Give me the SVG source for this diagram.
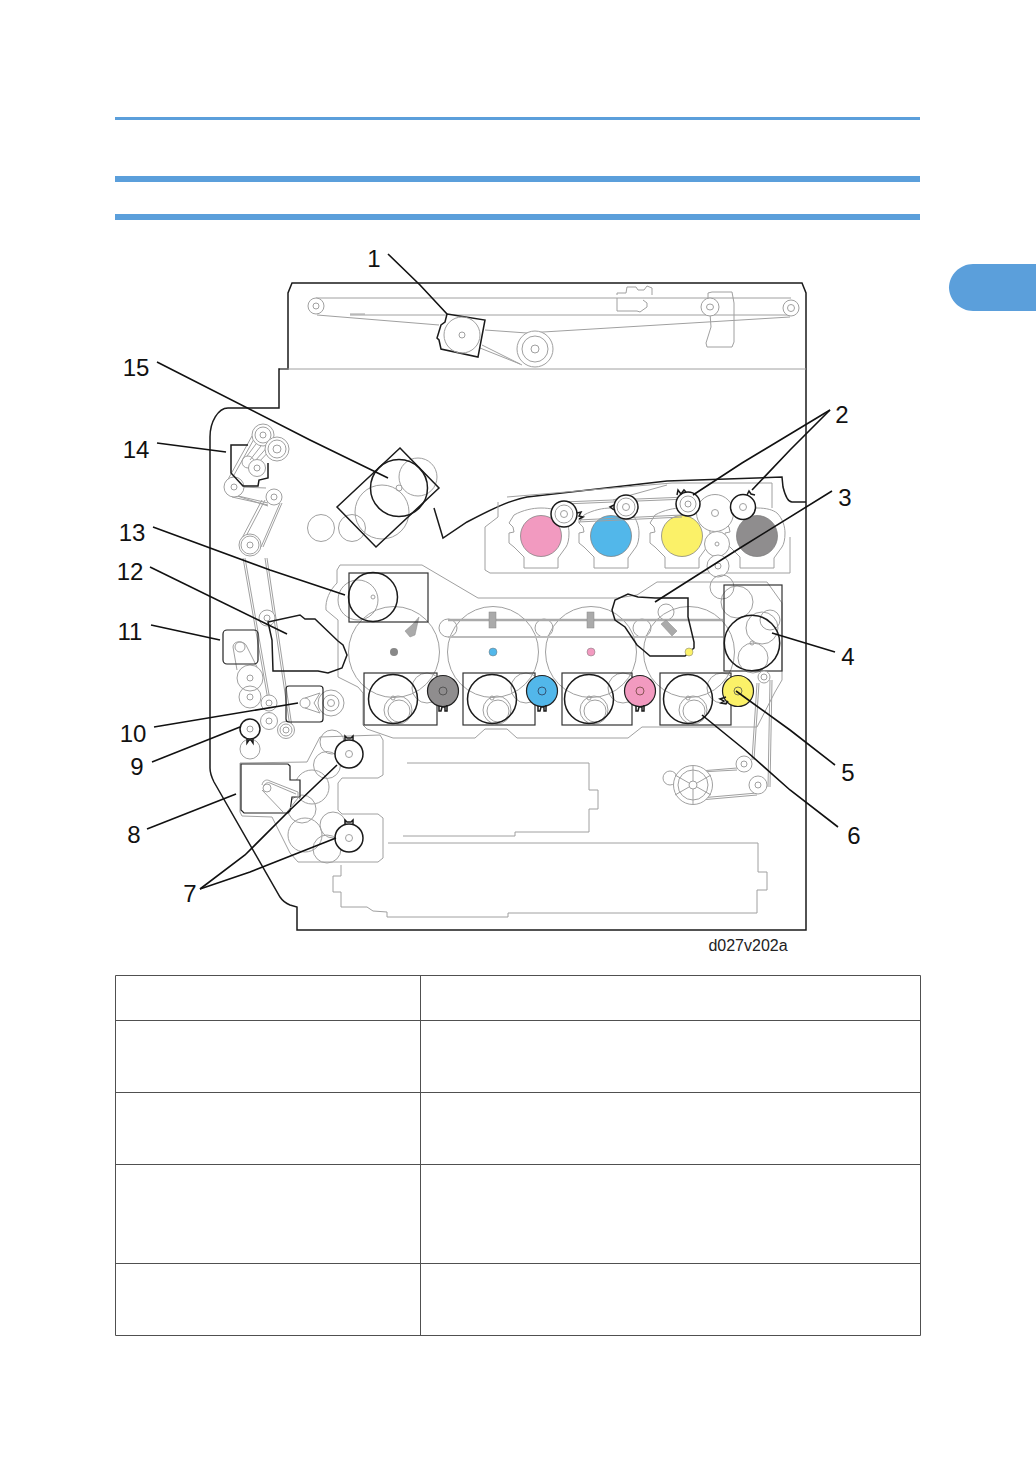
<svg xmlns="http://www.w3.org/2000/svg" width="1036" height="1470" viewBox="0 0 1036 1470">
<style>
.g{fill:none;stroke:#a0a0a0;stroke-width:1}
.gw{fill:#fff;stroke:#a0a0a0;stroke-width:1}
.k{fill:none;stroke:#1a1a1a;stroke-width:1.5}
.kw{fill:#fff;stroke:#1a1a1a;stroke-width:1.5}
.l{fill:none;stroke:#111;stroke-width:1.600}
.bar{fill:#5b9fdb}
.t{fill:none;stroke:#505050;stroke-width:1}
.n{font-family:"Liberation Sans",Arial,sans-serif;font-size:24px;fill:#111;text-anchor:middle}
.c{font-family:"Liberation Sans",Arial,sans-serif;font-size:16px;fill:#222;text-anchor:middle}
</style>
<defs>
<path id="cart" class="g" d="M-17 32V21L-27 11L-32 7V-3L-27-4L-28-9L-32-13L-27-21C-18-26-8-28 0-28C10-28 16-26 20-23C26-17 28-9 28-3C28 3 27 8 25 11L17 22V32Z"/>
<g id="unit"><circle cx="34" cy="-11" r="15" class="g"/><circle cx="5" cy="11" r="14" class="g"/><circle cx="6" cy="12" r="11" class="g"/><circle r="24.5" class="k"/><circle cx="0" cy="-1" r="2" class="g"/></g>
</defs>
<g id="header">
<rect class="bar" x="115" y="117" width="805" height="3"/>
<rect class="bar" x="115" y="176" width="805" height="6"/>
<rect class="bar" x="115" y="214" width="805" height="6"/>
<path class="bar" d="M1036 264H973C960 264 949 275 949 287.500C949 300 960 311 973 311H1036Z"/>
</g>
<g id="frame">
<path class="k" d="M292 283H802L806 293V930H297V907L290 905C285 903 282 900 280 897L214 782C211 776 210 772 210 768V437C210 422 218 408 228 408H279V369H288V293Z"/>
<path class="g" d="M280 369H806"/>
<path class="k" d="M434 508L443 538L467 522C490 510 510 500 527 497L667 481L782 477L783 487C785 495 788 502 792 502H806"/>
</g>
<g id="top-belt">
<path class="g" d="M316 298H791M350 315H791M317 315L439 325M485 330L527 333L543 332L790 317M482 345L522 365M480 348L520 364M350 314H365"/>
<circle cx="316" cy="306" r="8" class="gw"/><circle cx="316" cy="306" r="3" class="g"/>
<circle cx="535" cy="349" r="18" class="gw"/><circle cx="535" cy="349" r="13" class="g"/><circle cx="535" cy="349" r="4" class="g"/>
<path class="g" d="M617 295V293H626L627 287H636L638 290H644L647 286L652 288V295M617 298V311H637L640 312L647 307V303L643 300"/>
<path class="g" d="M708 302V293L712 292H732L734 303V342L732 347H707L706 343L711 327L710 313"/>
<circle cx="710" cy="307" r="9" class="gw"/><ellipse cx="710" cy="307" rx="3.500" ry="3" class="g"/>
<circle cx="791" cy="308" r="8" class="gw"/><circle cx="791" cy="308" r="3.500" class="g"/>
</g>
<g id="motor-1">
<path class="kw" d="M447 314L485 320L478 357L441 349L439 340L437 338L441 325L445 322Z"/>
<circle cx="462" cy="335" r="18" class="g"/><circle cx="462" cy="335" r="3" class="g"/>
</g>
<g id="toner">
<path class="g" d="M498 502V517L485 527V570L490 573H790V537M507 497L672 483H772V508M667 485L613 500"/>
<use href="#cart" x="541" y="536"/><use href="#cart" x="611" y="536"/><use href="#cart" x="682" y="536"/><use href="#cart" x="757" y="536"/>
<circle cx="541" cy="536" r="20.500" fill="#f29ac0" stroke="#777" stroke-width=".7"/>
<circle cx="611" cy="536" r="20.500" fill="#52b7ea" stroke="#777" stroke-width=".7"/>
<circle cx="682" cy="536" r="20.500" fill="#fbf168" stroke="#777" stroke-width=".7"/>
<circle cx="757" cy="536" r="20.500" fill="#8f8d8e" stroke="#777" stroke-width=".7"/>
</g>
<g id="toner-drive">
<circle cx="715" cy="513" r="18.500" class="gw"/><circle cx="715" cy="513" r="3.500" class="g"/>
<circle cx="717" cy="544" r="12.500" class="gw"/><circle cx="717" cy="544" r="2" class="g"/>
<circle cx="718" cy="566" r="11" class="gw"/><circle cx="718" cy="566" r="3" class="g"/>
<circle cx="722" cy="587" r="12" class="g"/>
<path class="g" d="M563 502L687 497M564 504L687 499M578 520L682 515M578 522L682 517"/>
<circle cx="564" cy="514" r="13" class="kw"/><circle cx="564" cy="514" r="9" class="g"/><circle cx="564" cy="514" r="3.500" class="g"/>
<path class="k" d="M577 513L581 512L579 516L583 517L579 519"/>
<circle cx="626" cy="507" r="12" class="kw"/><circle cx="626" cy="507" r="9" class="g"/><circle cx="626" cy="507" r="3.500" class="g"/>
<path class="k" d="M614 505L610 507L614 510"/>
<circle cx="688" cy="504" r="12" class="kw"/><circle cx="688" cy="504" r="8" class="g"/><circle cx="688" cy="504" r="3" class="g"/>
<path class="k" d="M677 495L678 490L681 494L684 490L686 492"/>
<circle cx="743" cy="507" r="12.500" class="kw"/><circle cx="743" cy="507" r="3.500" class="g"/>
<path class="k" d="M747 495L749 491L751 494L755 495"/>
</g>
<g id="left-belts">
<path class="g" d="M252 436L226 483M254 439L229 484M256 444L247 456M261 446L250 460M270 444L255 461M273 447L258 463M232 497L268 505M234 495L268 503M240 487L266 488M228 493L268 506M280 503L261 547M282 503L263 547M262 500L241 540M265 500L244 540M243 558L268 700M245 558L270 700M265 558L290 727M267 558L292 727"/>
<circle cx="263" cy="435" r="11" class="gw"/><circle cx="263" cy="435" r="8" class="g"/><circle cx="263" cy="435" r="3" class="g"/>
<circle cx="277" cy="449" r="12" class="gw"/><circle cx="277" cy="449" r="9" class="g"/><circle cx="277" cy="449" r="4" class="g"/>
<circle cx="248" cy="462" r="6" class="g"/>
<circle cx="234" cy="487" r="10" class="gw"/><circle cx="234" cy="487" r="3" class="g"/>
<circle cx="274" cy="497" r="8" class="gw"/><circle cx="274" cy="497" r="3" class="g"/>
<circle cx="250" cy="545" r="11" class="gw"/><circle cx="250" cy="545" r="9" class="g"/><circle cx="250" cy="545" r="3" class="g"/>
<circle cx="267" cy="618" r="8" class="gw"/><circle cx="267" cy="618" r="3" class="g"/>
<circle cx="250" cy="678" r="13" class="gw"/><circle cx="250" cy="678" r="3" class="g"/>
<circle cx="250" cy="697" r="11" class="g"/><circle cx="250" cy="697" r="3" class="g"/>
<circle cx="269" cy="703" r="8" class="gw"/><circle cx="269" cy="703" r="3" class="g"/>
<circle cx="269" cy="721" r="8.500" class="gw"/><circle cx="269" cy="721" r="3" class="g"/>
<circle cx="286" cy="730" r="8.500" class="gw"/><circle cx="286" cy="730" r="6" class="g"/><circle cx="286" cy="730" r="3" class="g"/>
<circle cx="250" cy="749" r="10" class="g"/>
</g>
<g id="box-14">
<path class="k" d="M248 445H231V473L243 486H258L259 480L268 478V463"/>
<circle cx="257" cy="468" r="8.500" class="gw"/><circle cx="257" cy="468" r="3" class="g"/>
</g>
<g id="motor-15">
<circle cx="418" cy="477" r="19" class="g"/><circle cx="382" cy="512" r="27" class="g"/><circle cx="321" cy="528" r="13.500" class="g"/><circle cx="352" cy="528" r="13.500" class="g"/>
<path class="k" d="M400 448L439 488L376 547L337 507Z"/>
<circle cx="399" cy="488" r="28.500" class="k"/><circle cx="399" cy="488" r="3" class="g"/>
</g>
<g id="drum-tray">
<path class="g" d="M337 583V570L340 565H422L478 598H618L637 595L657 582H767L782 603V680L775 692L757 727H642L628 738H517L507 729H485L475 738H393L367 729L363 725V693L358 687L338 677V620L326 610C325 600 330 590 337 583"/>
<circle cx="394" cy="652" r="45.500" class="gw"/><circle cx="493" cy="652" r="45.500" class="gw"/><circle cx="591" cy="652" r="45.500" class="gw"/><circle cx="689" cy="652" r="45.500" class="gw"/>
<circle cx="448" cy="628" r="9" class="g"/><circle cx="544" cy="628" r="9" class="g"/><circle cx="642" cy="628" r="9" class="g"/><circle cx="666" cy="612" r="8" class="g"/>
<path d="M448 620H723" fill="none" stroke="#aaa" stroke-width="2.500"/>
<path d="M448 637H723" fill="none" stroke="#bbb" stroke-width="2"/>
<circle cx="358" cy="600" r="20" class="g"/>
<rect x="489" y="612" width="7" height="16" fill="#aaa" stroke="#888" stroke-width=".5"/><rect x="587" y="612" width="7" height="16" fill="#aaa" stroke="#888" stroke-width=".5"/>
<path d="M405 631L413 624L419 617L415 635L410 637Z" fill="#aaa" stroke="#888" stroke-width=".5"/>
<path d="M661 624L666 620L677 631L672 636Z" fill="#aaa" stroke="#888" stroke-width=".5"/>
<circle cx="394" cy="652" r="4" fill="#888"/><circle cx="493" cy="652" r="4" fill="#52b7ea" stroke="#777" stroke-width=".5"/><circle cx="591" cy="652" r="4" fill="#f29ac0" stroke="#777" stroke-width=".5"/>
</g>
<g id="box-13">
<rect x="349" y="573" width="79" height="49" fill="none" stroke="#333" stroke-width="1.200"/>
<circle cx="373" cy="597" r="24.500" class="k"/><circle cx="373" cy="597" r="2" class="g"/>
</g>
<g id="box-12">
<path class="k" d="M268 622L300 615L305 619L315 619L338 641L343 645L347 655L342 668L328 673L318 671H273L272 640Z"/>
</g>
<g id="box-3">
<path class="k" d="M655 598H688V617L694 642V648L685 656H650L643 650L637 645L625 627L615 620L612 610L615 600L628 594L638 597Z"/>
<circle cx="689" cy="652" r="4" fill="#fbf168" stroke="#777" stroke-width=".5"/>
</g>
<g id="box-4">
<circle cx="737" cy="602" r="16" class="g"/><circle cx="762" cy="628" r="16" class="g"/><circle cx="753" cy="658" r="15" class="g"/><circle cx="770" cy="620" r="10" class="g"/>
<rect x="724" y="585" width="58" height="86" fill="none" stroke="#333" stroke-width="1.200"/>
<circle cx="752" cy="643" r="27.700" class="k"/><circle cx="752" cy="643" r="2" class="g"/>
</g>
<g id="drums">
<use href="#unit" x="393" y="699"/><use href="#unit" x="492" y="699"/><use href="#unit" x="589" y="699"/><use href="#unit" x="688" y="699"/>
<rect x="364" y="673" width="73" height="52" fill="none" stroke="#333" stroke-width="1.200"/>
<rect x="463" y="673" width="72" height="52" fill="none" stroke="#333" stroke-width="1.200"/>
<rect x="562" y="673" width="70" height="52" fill="none" stroke="#333" stroke-width="1.200"/>
<rect x="660" y="673" width="71" height="52" fill="none" stroke="#333" stroke-width="1.200"/>
</g>
<g id="gear-black"><circle cx="443" cy="691" r="15.500" fill="#8f8d8e" stroke="#222" stroke-width="1.200"/><circle cx="443" cy="691" r="4" fill="none" stroke="#555"/><path class="k" d="M439 706V711H441L442 707H445L445 711H447V705"/></g>
<g id="gear-cyan"><circle cx="542" cy="691" r="15.500" fill="#52b7ea" stroke="#222" stroke-width="1.200"/><circle cx="542" cy="691" r="4" fill="none" stroke="#357"/><path class="k" d="M538 706V711H540L541 707H544L544 711H546V705"/></g>
<g id="gear-magenta"><circle cx="640" cy="691" r="15.500" fill="#f29ac0" stroke="#222" stroke-width="1.200"/><circle cx="640" cy="691" r="4" fill="none" stroke="#855"/><path class="k" d="M636 706V711H638L639 707H642L642 711H644V705"/></g>
<g id="gear-yellow"><circle cx="738" cy="691" r="15.500" fill="#fbf168" stroke="#222" stroke-width="1.200"/><circle cx="738" cy="691" r="4" fill="none" stroke="#775"/><path class="k" d="M726 697L720 699L724 701L721 703L726 704L728 701"/></g>
<g id="box-11">
<path class="g" d="M233 647C233 640 245 640 247 647L257 667M233 647L237 670"/>
<rect x="223" y="630" width="35" height="34" rx="4" fill="none" stroke="#222" stroke-width="1.200"/>
<circle cx="240" cy="647" r="5" class="g"/>
</g>
<g id="box-10">
<circle cx="331" cy="703" r="13" class="g"/><circle cx="331" cy="703" r="8" class="g"/><circle cx="331" cy="703" r="3.500" class="g"/>
<rect x="286" y="686" width="37" height="36" rx="3" fill="none" stroke="#222" stroke-width="1.200"/>
<circle cx="305" cy="703" r="5" class="g"/>
<path class="g" d="M305 698L320 693L314 703L320 713L305 708"/>
</g>
<g id="motor-9">
<circle cx="250" cy="729" r="10" class="kw"/><circle cx="250" cy="729" r="3" class="g"/>
<path class="k" d="M247 739V743L249 740H251L253 743V739"/>
</g>
<g id="lower-left">
<path class="g" d="M240 763L307 762L320 737L380 735L383 740V775L378 778H342L338 783V810L342 814H378L383 818V858L378 862H298L290 853L272 817L242 816L240 812Z"/>
<circle cx="332" cy="742" r="12" class="g"/><circle cx="327" cy="765" r="13.500" class="g"/><circle cx="312" cy="787" r="17" class="g"/><circle cx="302" cy="809" r="14" class="g"/><circle cx="305" cy="835" r="17" class="g"/><circle cx="327" cy="849" r="14" class="g"/><circle cx="333" cy="825" r="13" class="g"/>
</g>
<g id="box-8">
<path d="M241 764H288L290 766V780H300V797H292L290 811L288 813H244L241 810Z" fill="#fff" stroke="#222" stroke-width="1.200"/>
<path class="g" d="M262 785C263 780 267 779 270 781L298 792V798L287 812M262 790L283 812M264 786C265 783 268 782 270 783L296 794"/>
<circle cx="267" cy="788" r="4" class="g"/>
</g>
<g id="motor-7a"><circle cx="349" cy="754" r="14" class="kw"/><circle cx="349" cy="754" r="3.500" class="g"/><path class="k" d="M345 741V736L347 738H351L353 736V741"/></g>
<g id="motor-7b"><circle cx="349" cy="838" r="14" class="kw"/><circle cx="349" cy="838" r="3.500" class="g"/><path class="k" d="M345 825V820L347 822H351L353 820V825"/></g>
<g id="trays">
<path class="g" d="M407 763H589V790H598V809H589V832H515V836H403"/>
<path class="g" d="M388 843H758V872H767V890H757V913H508V917H387V912L373 911L367 907H341V892H333V876H341V865"/>
</g>
<g id="lower-right">
<path class="g" d="M757 683L752 760M759 683L754 760M770 680L768 787M772 680L770 787M700 772L737 770M700 771L737 768M700 798L757 793M700 800L757 795"/>
<circle cx="764" cy="677" r="6" class="gw"/><circle cx="764" cy="677" r="3" class="g"/>
<circle cx="744" cy="764" r="8" class="gw"/><circle cx="744" cy="764" r="3" class="g"/>
<circle cx="758" cy="785" r="9" class="gw"/><circle cx="758" cy="785" r="3" class="g"/>
<circle cx="670" cy="778" r="7" class="g"/>
<circle cx="693" cy="785" r="19.500" class="gw"/><circle cx="693" cy="785" r="15" class="g"/><circle cx="693" cy="785" r="4" class="g"/>
<path class="g" d="M693 766V781M693 789V804M675 775L689 783M697 787L711 795M675 795L689 787M697 783L711 775"/>
</g>
<g id="connectors">
<path class="l" d="M388 254L420 285L447 314"/>
<path class="l" d="M830 410L742 463L693 495"/>
<path class="l" d="M830 410L790 450L752 490"/>
<path class="l" d="M832 491L740 548L655 602"/>
<path class="l" d="M835 652L772 633"/>
<path class="l" d="M835 765L790 730L736 691"/>
<path class="l" d="M838 827L790 790L745 750L702 715"/>
<path class="l" d="M200 889L245 855L290 810L337 765"/>
<path class="l" d="M200 889L250 872L336 838"/>
<path class="l" d="M147 829L236 794"/>
<path class="l" d="M152 762L240 727"/>
<path class="l" d="M154 727L298 703"/>
<path class="l" d="M151 625L220 640"/>
<path class="l" d="M150 567L287 634"/>
<path class="l" d="M153 527L270 570L345 595"/>
<path class="l" d="M157 443L226 452"/>
<path class="l" d="M157 362L310 440L388 478"/>
</g>
<g id="labels">
<text class="n" x="374" y="267">1</text>
<text class="n" x="842" y="423">2</text>
<text class="n" x="845" y="506">3</text>
<text class="n" x="848" y="665">4</text>
<text class="n" x="848" y="781">5</text>
<text class="n" x="854" y="844">6</text>
<text class="n" x="190" y="902">7</text>
<text class="n" x="134" y="843">8</text>
<text class="n" x="137" y="775">9</text>
<text class="n" x="133" y="742">10</text>
<text class="n" x="130" y="640">11</text>
<text class="n" x="130" y="580">12</text>
<text class="n" x="132" y="541">13</text>
<text class="n" x="136" y="458">14</text>
<text class="n" x="136" y="376">15</text>
<text class="c" x="748" y="951">d027v202a</text>
</g>
<g id="table">
<path class="t" d="M115.500 975.500H920.500V1335.500H115.500ZM420.500 975.500V1335.500M115.500 1020.500H920.500M115.500 1092.500H920.500M115.500 1164.500H920.500M115.500 1263.500H920.500"/>
</g>
</svg>
